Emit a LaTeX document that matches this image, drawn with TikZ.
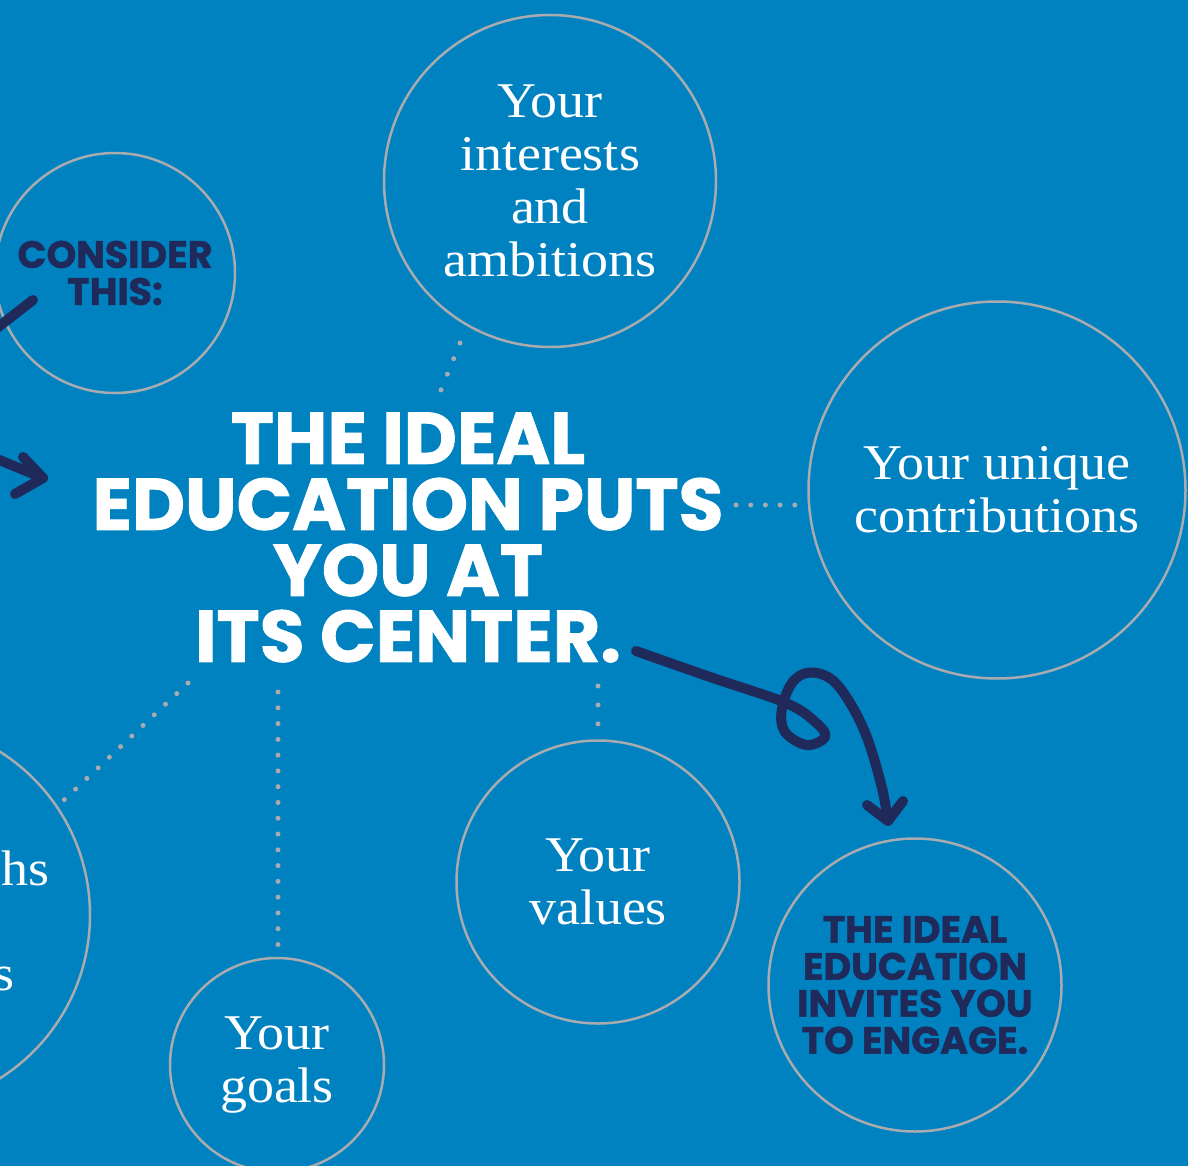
\documentclass[tikz,border=0pt]{standalone}
\usepackage{fontspec}
\setmainfont{Liberation Serif}[FakeStretch=1.08]
\newfontfamily\headfont{Poppins}[BoldFeatures={FakeBold=1.2}]
\definecolor{bg}{HTML}{0082C0}
\definecolor{navy}{HTML}{1F2A5A}
\definecolor{ring}{HTML}{A9ABAE}
\tikzset{
  x=1pt, y=-1pt,
  bubble/.style={circle, draw=ring, line width=2.5pt, inner sep=0pt, align=center,
    text=white, font=\fontsize{50}{53}\selectfont},
  navybubble/.style={bubble, text=navy, font=\headfont\bfseries\fontsize{38}{37}\selectfont},
  headline/.style={text=white, inner sep=0pt, align=center, font=\headfont\bfseries\fontsize{73}{66}\selectfont},
  dotline/.style={draw=ring, line width=5pt, line cap=round},
  navystroke/.style={draw=navy, line width=10pt, line cap=round, line join=round}
}
\begin{document}
\begin{tikzpicture}
\fill[bg] (0,0) rectangle (1188,1166);
\useasboundingbox (0,0) rectangle (1188,1166);
\clip (0,0) rectangle (1188,1166);

% circles
\node[bubble, minimum size=332pt] (interests) at (550,181) {Your\\interests\\and\\ambitions};
\node[navybubble, minimum size=240pt] (consider) at (115,273) {CONSIDER\\THIS:};
\node[bubble, minimum size=377pt] (unique) at (997,490) {Your unique\\contributions};
\node[bubble, minimum size=386pt] (left) at (-103,915) {};
\node[text=white, inner sep=0pt, anchor=base east, font=\fontsize{50}{53}\selectfont] (lefta) at (50,885) {hs};
\node[text=white, inner sep=0pt, anchor=base east, font=\fontsize{50}{53}\selectfont] (leftb) at (15,990) {s};
\node[bubble, minimum size=214pt] (goals) at (277,1065) {Your\\goals};
\node[bubble, minimum size=283pt] (values) at (598,882) {Your\\values};
\node[navybubble, minimum size=293pt] (invite) at (915,985) {THE IDEAL\\EDUCATION\\INVITES YOU\\TO ENGAGE.};

% headline
\node[headline] (head) at (408,537.5) {THE IDEAL\\EDUCATION PUTS\\YOU AT\\ITS CENTER.};

% dotted connectors
\coordinate (d1a) at (460,343); \coordinate (d1b) at (441,390);
\coordinate (d2a) at (736,505); \coordinate (d2b) at (795,505);
\coordinate (d3a) at (598,686); \coordinate (d3b) at (598,724);
\coordinate (d4a) at (278,692); \coordinate (d4b) at (278,945);
\coordinate (d5a) at (188,683); \coordinate (d5b) at (64,800);
\draw[dotline, dash pattern=on 0pt off 16.85pt] (d1a) -- (d1b);
\draw[dotline, dash pattern=on 0pt off 14.7pt] (d2a) -- (d2b);
\draw[dotline, dash pattern=on 0pt off 18.9pt] (d3a) -- (d3b);
\draw[dotline, dash pattern=on 0pt off 15.78pt] (d4a) -- (d4b);
\draw[dotline, dash pattern=on 0pt off 15.45pt] (d5a) -- (d5b);

% navy arrows
\coordinate (s1a) at (-12,335); \coordinate (s1b) at (33,300);
\draw[navystroke] (s1a) -- (s1b);
\coordinate (a2s) at (-20,452); \coordinate (a2t) at (43,478);
\coordinate (a2u) at (23,457); \coordinate (a2l) at (15,494);
\draw[navystroke] (a2s) -- (a2t);
\draw[navystroke] (a2u) -- (a2t) -- (a2l);

\coordinate (loopstart) at (636,651);
\coordinate (looptip) at (888,821);
\draw[navystroke] plot[smooth, tension=0.6] coordinates {(636,651) (710,677) (786.7,703.3) (816.7,723.3) (825,737) (806.7,745) (785,732) (781.7,710) (791.7,683.3) (808.3,672.7) (830,678.3) (848.3,700) (866.7,736.7) (881.7,786.7) (888,821)};
\coordinate (b1) at (867,805); \coordinate (b2) at (903,801);
\draw[navystroke] (b1) -- (looptip) -- (b2);
\end{tikzpicture}
\end{document}
